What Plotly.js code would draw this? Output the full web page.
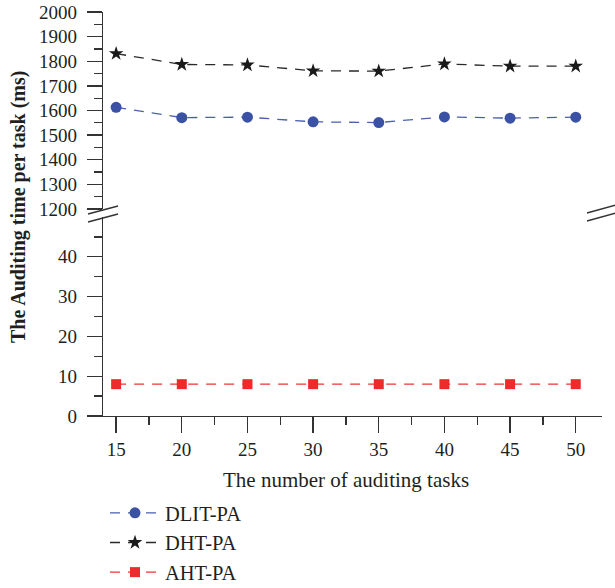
<!DOCTYPE html>
<html>
<head>
<meta charset="utf-8">
<script src="https://cdn.plot.ly/plotly-3.0.1.min.js"></script>
<style>html,body{margin:0;padding:0;background:#fff;}#chart{width:615px;height:588px;}</style>
</head>
<body>
<div id="chart"></div>
<script>
// ---- data ----
const tasks = [15, 20, 25, 30, 35, 40, 45, 50];
const dlitPA = [1613, 1571, 1573, 1554, 1551, 1574, 1569, 1573];
const dhtPA  = [1831, 1787, 1785, 1761, 1760, 1789, 1780, 1780];
const ahtPA  = [8, 8, 8, 8, 8, 8, 8, 8];
const seriesNames = ["DLIT-PA", "DHT-PA", "AHT-PA"];
const xTicks = [15, 20, 25, 30, 35, 40, 45, 50];
const lowTicks = [0, 10, 20, 30, 40];
const lowMinor = [5, 15, 25, 35, 45];

// ---- layout geometry (pixels) ----
const W = 615, H = 588;
const L = 103, R = 602, T = 12, B = 416;
const pw = R - L, ph = B - T;
const px = v => (v - L) / pw;
const py = v => (B - v) / ph;

const font = "Liberation Serif, Times New Roman, serif";
const txt = "#231f20";
const axc = "#333333";

const lowDomain = [0, py(217)];
const upDomain = [py(209), 1];

const traces = [
  {x: tasks, y: dlitPA, name: seriesNames[0], xaxis: "x", yaxis: "y2", mode: "lines+markers",
   line: {color: "#4a5fae", width: 1.3, dash: "10px,8px"},
   marker: {symbol: "circle", size: 11, color: "#3b51a3"}},
  {x: tasks, y: dhtPA, name: seriesNames[1], xaxis: "x", yaxis: "y2", mode: "lines+markers",
   line: {color: "#2a2a2a", width: 1.3, dash: "10px,8px"},
   marker: {symbol: "star", size: 11, color: "#1a1a1a"}},
  {x: tasks, y: ahtPA, name: seriesNames[2], xaxis: "x", yaxis: "y", mode: "lines+markers",
   line: {color: "#ee3434", width: 1.3, dash: "10px,8px"},
   marker: {symbol: "square", size: 10, color: "#ee2a2a"}}
];

const tickFont = {family: font, size: 19, color: txt};
const common = {showline: true, linecolor: axc, linewidth: 1.3, tickcolor: axc, tickwidth: 1.3,
  showgrid: false, zeroline: false, fixedrange: true, automargin: false};

const layout = {
  width: W, height: H,
  margin: {l: L, r: W - R, t: T, b: H - B, autoexpand: false},
  paper_bgcolor: "#fff", plot_bgcolor: "#fff",
  font: {family: font, color: txt},
  showlegend: true,
  legend: {xref: "container", yref: "container", x: 105 / W, y: 1 - 493 / H, xanchor: "left", yanchor: "top", orientation: "v",
    font: {family: font, size: 20.5, color: txt}, itemwidth: 50, bgcolor: "rgba(0,0,0,0)",
    traceorder: "normal"},
  xaxis: Object.assign({}, common, {anchor: "y", domain: [0, 1], range: [14, 52],
    tickmode: "array", tickvals: xTicks, ticks: "outside", ticklen: 16, tickfont: tickFont,
    ticklabelstandoff: 0,
    minor: {tickmode: "linear", tick0: 15, dtick: 2.5, ticks: "outside", ticklen: 8, tickcolor: axc, tickwidth: 1.3}}),
  xaxis2: Object.assign({}, common, {anchor: "y2", overlaying: "x", side: "top", range: [14, 52],
    tickmode: "array", tickvals: xTicks, ticks: "inside", ticklen: 15, showticklabels: false,
    minor: {tickmode: "linear", tick0: 15, dtick: 2.5, ticks: "inside", ticklen: 8, tickcolor: axc, tickwidth: 1.3}}),
  yaxis: Object.assign({}, common, {domain: lowDomain, anchor: "x", range: [0, 50], side: "left",
    tickmode: "array", tickvals: lowTicks, ticks: "outside", ticklen: 15, tickfont: tickFont,
    ticklabelstandoff: 6,
    minor: {tickmode: "array", tickvals: lowMinor, ticks: "outside", ticklen: 8, tickcolor: axc, tickwidth: 1.3}}),
  yaxis2: Object.assign({}, common, {domain: upDomain, anchor: "x", range: [1200, 2000], side: "left",
    tickmode: "linear", tick0: 1200, dtick: 100, ticks: "outside", ticklen: 15, tickfont: tickFont,
    ticklabelstandoff: 6,
    minor: {tickmode: "linear", tick0: 1200, dtick: 50, ticks: "outside", ticklen: 8, tickcolor: axc, tickwidth: 1.3}}),
  yaxis3: Object.assign({}, common, {overlaying: "y", anchor: "x", side: "right", range: [0, 50],
    tickmode: "array", tickvals: lowTicks, ticks: "inside", ticklen: 15, showticklabels: false,
    minor: {tickmode: "array", tickvals: lowMinor, ticks: "inside", ticklen: 8, tickcolor: axc, tickwidth: 1.3}}),
  yaxis4: Object.assign({}, common, {overlaying: "y2", anchor: "x", side: "right", range: [1200, 2000],
    tickmode: "linear", tick0: 1200, dtick: 100, ticks: "inside", ticklen: 15, showticklabels: false,
    minor: {tickmode: "linear", tick0: 1200, dtick: 50, ticks: "inside", ticklen: 8, tickcolor: axc, tickwidth: 1.3}}),
  annotations: [
    {text: "<b>The Auditing time per task (ms)</b>", xref: "paper", yref: "paper",
     x: px(18), y: py(207), xanchor: "center", yanchor: "middle", textangle: -90,
     showarrow: false, font: {family: font, size: 20, color: txt}},
    {text: "The number of auditing tasks", xref: "paper", yref: "paper",
     x: px(346), y: py(480), xanchor: "center", yanchor: "middle",
     showarrow: false, font: {family: font, size: 21, color: txt}}
  ],
  shapes: [
    {type: "line", xref: "paper", yref: "paper", x0: px(88), y0: py(214), x1: px(118), y1: py(206), line: {color: axc, width: 1.3}},
    {type: "line", xref: "paper", yref: "paper", x0: px(88), y0: py(222), x1: px(118), y1: py(214), line: {color: axc, width: 1.3}},
    {type: "line", xref: "paper", yref: "paper", x0: px(587), y0: py(213), x1: px(616), y1: py(205), line: {color: axc, width: 1.3}},
    {type: "line", xref: "paper", yref: "paper", x0: px(587), y0: py(221), x1: px(616), y1: py(213), line: {color: axc, width: 1.3}}
  ]
};

Plotly.newPlot("chart", traces, layout, {staticPlot: true, displayModeBar: false});
</script>
</body>
</html>
